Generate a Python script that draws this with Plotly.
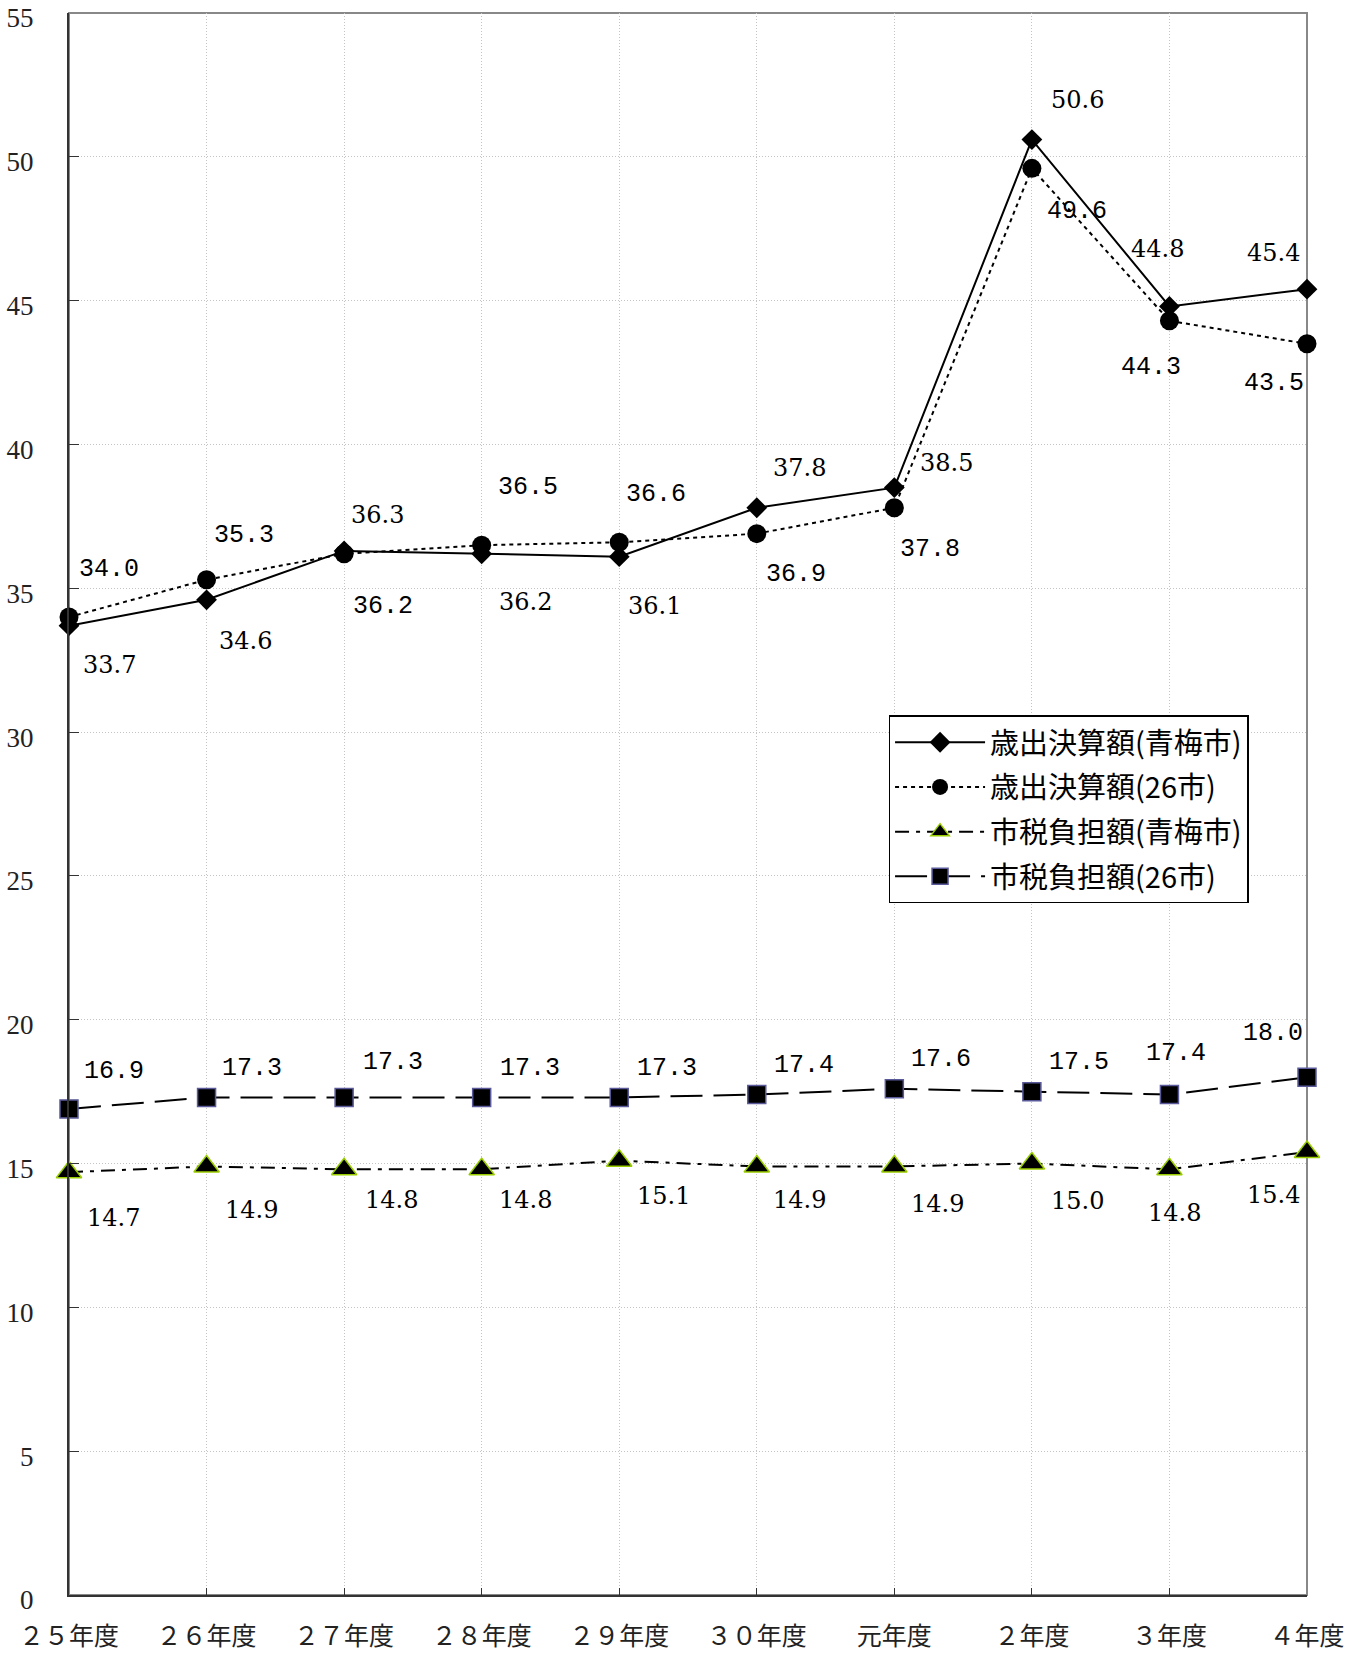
import plotly.graph_objects as go

# ---- data ----
categories = ["２５年度", "２６年度", "２７年度", "２８年度", "２９年度",
              "３０年度", "元年度", "２年度", "３年度", "４年度"]
spend_ome = [33.7, 34.6, 36.3, 36.2, 36.1, 37.8, 38.5, 50.6, 44.8, 45.4]
spend_26 = [34.0, 35.3, 36.2, 36.5, 36.6, 36.9, 37.8, 49.6, 44.3, 43.5]
tax_ome = [14.7, 14.9, 14.8, 14.8, 15.1, 14.9, 14.9, 15.0, 14.8, 15.4]
tax_26 = [16.9, 17.3, 17.3, 17.3, 17.3, 17.4, 17.6, 17.5, 17.4, 18.0]
y_ticks = [0, 5, 10, 15, 20, 25, 30, 35, 40, 45, 50, 55]

names = ["歳出決算額(青梅市)", "歳出決算額(26市)", "市税負担額(青梅市)", "市税負担額(26市)"]

# ---- label offsets (pixels, dx right, dy down) ----
off_spend_ome = [(40, 39), (39, 41), (33, -36), (44, 48), (35, 49), (43, -40), (52, -25), (46, -40), (-12, -57), (-34, -36)]
off_spend_26 = [(40, -48), (37, -44), (39, 53), (46, -58), (37, -48), (39, 41), (36, 42), (45, 43), (-18, 47), (-33, 40)]
off_tax_26 = [(45, -37), (45, -29), (49, -35), (48, -29), (48, -29), (47, -29), (47, -29), (47, -29), (7, -41), (-34, -44)]
off_tax_ome = [(44, 46), (45, 44), (47, 31), (44, 31), (44, 35), (43, 34), (43, 38), (46, 37), (5, 44), (-34, 43)]

xs = list(range(len(categories)))

fig = go.Figure()
fig.add_trace(go.Scatter(
    x=xs, y=spend_ome, name=names[0], mode="lines+markers", legendgroup="a",
    cliponaxis=False,
    line=dict(color="black", width=2),
    marker=dict(symbol="diamond", size=16, color="black")))
fig.add_trace(go.Scatter(
    x=xs, y=spend_26, name=names[1], mode="lines+markers", legendgroup="b",
    cliponaxis=False,
    line=dict(color="black", width=2, dash="4px,4px"),
    marker=dict(symbol="circle", size=19, color="black")))
fig.add_trace(go.Scatter(
    x=xs, y=tax_ome, name=names[2], mode="lines+markers", legendgroup="c",
    cliponaxis=False,
    line=dict(color="black", width=2, dash="14px,7px,4px,7px"),
    marker=dict(symbol="triangle-up", size=22, color="black",
                line=dict(color="#9acd00", width=1.5))))
fig.add_trace(go.Scatter(
    x=xs, y=tax_26, name=names[3], mode="lines+markers", legendgroup="d",
    cliponaxis=False,
    line=dict(color="black", width=2, dash="32px,11px"),
    marker=dict(symbol="square", size=18, color="black",
                line=dict(color="#5a5a9a", width=1.5))))

ann = []
def add_labels(vals, offs, fam, size):
    for i, (v, (dx, dy)) in enumerate(zip(vals, offs)):
        ann.append(dict(x=i, y=v, xref="x", yref="y", text=f"{v:.1f}",
                        showarrow=False, xshift=dx, yshift=-dy,
                        font=dict(family=fam, size=size, color="black")))

add_labels(spend_ome, off_spend_ome, "DejaVu Serif", 24)
add_labels(spend_26, off_spend_26, "Liberation Mono", 25)
add_labels(tax_26, off_tax_26, "Liberation Mono", 25)
add_labels(tax_ome, off_tax_ome, "DejaVu Serif", 24)

fig.update_layout(
    width=1364, height=1655,
    margin=dict(l=69, r=57, t=13, b=60),
    plot_bgcolor="white", paper_bgcolor="white",
    annotations=ann,
    shapes=[dict(type="rect", xref="paper", yref="paper", x0=0, x1=1, y0=0, y1=1,
                 line=dict(color="#888888", width=2), layer="below")],
    legend=dict(x=0.662, y=0.556, xanchor="left", yanchor="top",
                bgcolor="white", bordercolor="black", borderwidth=1.5,
                font=dict(family="Noto Sans CJK JP", size=29, color="black"),
                itemwidth=90, tracegroupgap=4),
    showlegend=True,
)
fig.update_xaxes(
    range=[0, 9], tickmode="array", tickvals=xs, ticktext=categories,
    showgrid=True, gridcolor="#c4c4c4", griddash="1px,2px", gridwidth=1,
    showline=True, linecolor="#333333", linewidth=2,
    ticks="inside", ticklen=7, tickcolor="#333333",
    ticklabelstandoff=18, automargin=False, ticklabeloverflow="allow",
    tickfont=dict(family="Noto Sans CJK JP", size=25, color="#222222"),
    zeroline=False,
)
fig.update_yaxes(
    range=[0, 55.001], tickmode="array", tickvals=y_ticks,
    showgrid=True, gridcolor="#c4c4c4", griddash="1px,2px", gridwidth=1,
    showline=True, linecolor="#333333", linewidth=2,
    ticks="inside", ticklen=10, tickcolor="#333333",
    ticklabelstandoff=28, ticklabelshift=5, automargin=False, ticklabeloverflow="allow",
    tickfont=dict(family="Liberation Serif", size=27, color="#222222"),
    zeroline=False,
)

fig.write_html("out.html", config={"displayModeBar": False},
               post_script="document.body.style.margin='0px';")
